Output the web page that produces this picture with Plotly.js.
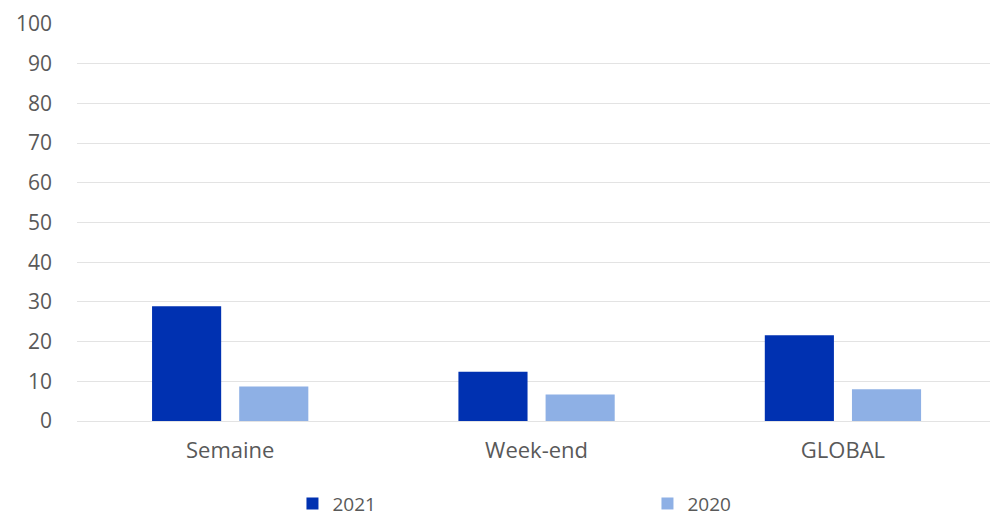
<!DOCTYPE html>
<html>
<head>
<meta charset="utf-8">
<script src="https://cdn.plot.ly/plotly-3.0.1.min.js"></script>
<style>html,body{margin:0;padding:0;background:#fff}#chart{width:990px;height:516px}</style>
</head>
<body>
<div id="chart"></div>
<script>
var categories = ["Semaine", "Week-end", "GLOBAL"];
var series2021 = [28.9, 12.4, 21.6];
var series2020 = [8.7, 6.7, 8.0];
var yTicks = [0, 10, 20, 30, 40, 50, 60, 70, 80, 90, 100];

var traces = [
  {type: "bar", name: "2021", x: categories, y: series2021,
   marker: {color: "#0031B1"}, hoverinfo: "x+y"},
  {type: "bar", name: "2020", x: categories, y: series2020,
   marker: {color: "#8EB0E5"}, hoverinfo: "x+y"}
];

var layout = {
  width: 990, height: 516,
  margin: {l: 77, r: 0, t: 24, b: 95, autoexpand: false},
  paper_bgcolor: "#fff", plot_bgcolor: "#fff",
  font: {family: "'Open Sans', sans-serif", color: "#595959", size: 21},
  barmode: "group",
  bargap: 0.431,
  bargroupgap: 0.207,
  showlegend: true,
  legend: {orientation: "h", x: 0.236, xanchor: "left", xref: "paper",
           y: 0.024, yanchor: "middle", yref: "container",
           font: {size: 19, color: "#595959"},
           entrywidth: 310, entrywidthmode: "pixels", itemwidth: 30},
  xaxis: {type: "category", range: [-0.5, 2.48], showgrid: false, zeroline: false,
          showline: false, ticks: "", ticklabelstandoff: 14,
          tickfont: {size: 22, color: "#595959"}},
  yaxis: {range: [0, 100], tickvals: yTicks, ticktext: yTicks.map(String),
          showgrid: true, gridcolor: "#E3E3E3", gridwidth: 1,
          zeroline: true, zerolinecolor: "#E3E3E3", zerolinewidth: 1,
          showline: false, ticks: "", ticklabelstandoff: 24,
          tickfont: {size: 21, color: "#595959"}}
};

Plotly.newPlot("chart", traces, layout, {displayModeBar: false, staticPlot: true});
</script>
</body>
</html>
